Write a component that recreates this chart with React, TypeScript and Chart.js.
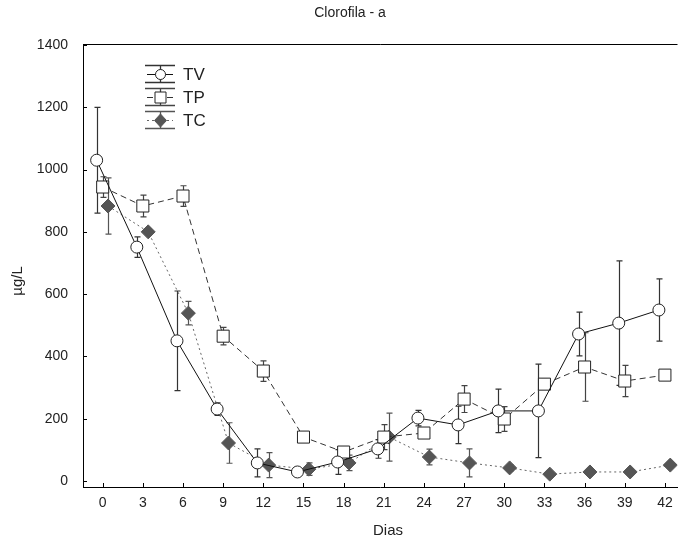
import React, { useEffect, useRef } from "react";
import { Chart, registerables } from "chart.js";

Chart.register(...registerables);

const days = [0, 3, 6, 9, 12, 15, 18, 21, 24, 27, 30, 33, 36, 39, 42];
const tvValues = [1030, 751, 450, 231, 58, 29, 61, 103, 202, 180, 225, 225, 472, 507, 549];
const tvErrors = [170, 33, 160, 20, 45, 8, 40, 30, 25, 60, 70, 150, 70, 200, 100];
const tpValues = [944, 883, 915, 465, 353, 141, 93, 141, 154, 263, 199, 311, 366, 321, 340];
const tpErrors = [33, 35, 33, 28, 33, 15, 15, 40, 15, 43, 40, 15, 110, 50, 0];
const tcValues = [883, 800, 539, 122, 51, 38, 58, 141, 77, 58, 42, 22, 29, 29, 51];
const tcErrors = [90, 10, 38, 65, 40, 20, 25, 77, 25, 45, 10, 5, 8, 8, 8];
const yTicks = [0, 200, 400, 600, 800, 1000, 1200, 1400];
const xTicks = [0, 3, 6, 9, 12, 15, 18, 21, 24, 27, 30, 33, 36, 39, 42];
const seriesNames = ["TV", "TP", "TC"];
const titleText = "Clorofila - a";
const xTitle = "Dias";
const yTitle = "µg/L";

const FONT = "'Liberation Sans', Arial, sans-serif";

const styles = [
  { color: "#111", dash: [] as number[], point: "circle", radius: 6, fill: "#fff", errColor: "#333", offset: -0.45 },
  { color: "#333", dash: [6, 4], point: "rect", radius: 8.5, fill: "#fff", errColor: "#444", offset: 0 },
  { color: "#666", dash: [2, 3], point: "rectRot", radius: 7, fill: "#555", errColor: "#555", offset: 0.4 },
];

const values = [tvValues, tpValues, tcValues];
const errors = [tvErrors, tpErrors, tcErrors];

const overlayPlugin = {
  id: "overlay",
  beforeDatasetsDraw(chart: any) {
    const ctx = chart.ctx;
    const ys = chart.scales.y;
    ctx.save();
    chart.data.datasets.forEach((ds: any, i: number) => {
      const meta = chart.getDatasetMeta(i);
      ctx.strokeStyle = styles[i].errColor;
      ctx.lineWidth = 1.2;
      ctx.setLineDash([]);
      meta.data.forEach((pt: any, j: number) => {
        const e = errors[i][j];
        if (!e) return;
        const v = values[i][j];
        const x = Math.round(pt.x) + 0.5;
        const y1 = ys.getPixelForValue(v + e);
        const y2 = ys.getPixelForValue(v - e);
        ctx.beginPath();
        ctx.moveTo(x, y1);
        ctx.lineTo(x, y2);
        ctx.moveTo(x - 3, y1);
        ctx.lineTo(x + 3, y1);
        ctx.moveTo(x - 3, y2);
        ctx.lineTo(x + 3, y2);
        ctx.stroke();
      });
    });
    ctx.restore();
  },
  afterDraw(chart: any) {
    const ctx = chart.ctx;
    const ca = chart.chartArea;
    const xs = chart.scales.x;
    const ys = chart.scales.y;
    ctx.save();
    ctx.strokeStyle = "#000";
    ctx.lineWidth = 1;
    ctx.setLineDash([]);
    // top border
    ctx.beginPath();
    ctx.moveTo(ca.left, Math.round(ca.top) + 0.5);
    ctx.lineTo(ca.right, Math.round(ca.top) + 0.5);
    ctx.stroke();
    // inward ticks
    ctx.beginPath();
    xTicks.forEach((t) => {
      const x = Math.round(xs.getPixelForValue(t)) + 0.5;
      ctx.moveTo(x, ca.bottom);
      ctx.lineTo(x, ca.bottom - 4);
    });
    yTicks.forEach((t) => {
      const y = Math.round(ys.getPixelForValue(t)) + 0.5;
      ctx.moveTo(ca.left, y);
      ctx.lineTo(ca.left + 4, y);
    });
    ctx.stroke();

    // title
    ctx.fillStyle = "#222";
    ctx.font = `14px ${FONT}`;
    ctx.textAlign = "center";
    ctx.textBaseline = "middle";
    ctx.fillText(titleText, 350, 13);
    // x title
    ctx.font = `15px ${FONT}`;
    ctx.fillText(xTitle, 388, 531);
    // y title
    ctx.save();
    ctx.translate(18, 281);
    ctx.rotate(-Math.PI / 2);
    ctx.fillText(yTitle, 0, 0);
    ctx.restore();

    // legend
    const centers = [74, 97, 120];
    const lx = 160;
    seriesNames.forEach((name, i) => {
      const st = styles[i];
      const cy = centers[i];
      ctx.strokeStyle = st.errColor;
      ctx.lineWidth = 1.3;
      ctx.setLineDash([]);
      ctx.beginPath();
      ctx.moveTo(145, cy - 8.5);
      ctx.lineTo(175, cy - 8.5);
      ctx.moveTo(145, cy + 8.5);
      ctx.lineTo(175, cy + 8.5);
      ctx.moveTo(lx + 0.5, cy - 8.5);
      ctx.lineTo(lx + 0.5, cy + 8.5);
      ctx.stroke();
      ctx.strokeStyle = st.color;
      ctx.lineWidth = 1;
      ctx.setLineDash(st.dash);
      ctx.beginPath();
      ctx.moveTo(147, cy + 0.5);
      ctx.lineTo(173, cy + 0.5);
      ctx.stroke();
      ctx.setLineDash([]);
      ctx.fillStyle = st.fill;
      ctx.strokeStyle = st.point === "rectRot" ? st.fill : "#222";
      ctx.beginPath();
      if (st.point === "circle") {
        ctx.arc(lx + 0.5, cy + 0.5, 5, 0, Math.PI * 2);
      } else if (st.point === "rect") {
        ctx.rect(lx - 5, cy - 5, 11, 11);
      } else {
        ctx.moveTo(lx + 0.5, cy - 6);
        ctx.lineTo(lx + 6.5, cy + 0.5);
        ctx.lineTo(lx + 0.5, cy + 7);
        ctx.lineTo(lx - 5.5, cy + 0.5);
        ctx.closePath();
      }
      ctx.fill();
      ctx.stroke();
      ctx.fillStyle = "#222";
      ctx.font = `17px ${FONT}`;
      ctx.textAlign = "left";
      ctx.textBaseline = "middle";
      ctx.fillText(name, 183, cy + 1);
    });
    ctx.restore();
  },
};

export default function App() {
  const ref = useRef<HTMLCanvasElement | null>(null);
  useEffect(() => {
    if (!ref.current) return;
    const datasets = values.map((vals, i) => {
      const st = styles[i];
      return {
        label: seriesNames[i],
        data: vals.map((v, j) => ({ x: days[j] + st.offset, y: v })),
        borderColor: st.color,
        borderWidth: 1,
        borderDash: st.dash,
        pointStyle: st.point,
        pointRadius: st.radius,
        pointBackgroundColor: st.fill,
        pointBorderColor: st.point === "rectRot" ? st.fill : "#222",
        pointBorderWidth: 1,
        tension: 0,
        fill: false,
      };
    });
    const chart = new Chart(ref.current, {
      type: "line",
      data: { datasets: datasets as any },
      options: {
        animation: false,
        responsive: false,
        devicePixelRatio: 1,
        layout: { padding: { top: 44, left: 0, right: 0, bottom: 0 } },
        plugins: { legend: { display: false }, tooltip: { enabled: false }, title: { display: false } },
        scales: {
          x: {
            type: "linear",
            min: -1.47,
            max: 42.94,
            afterBuildTicks: (s: any) => {
              s.ticks = xTicks.map((v) => ({ value: v }));
            },
            afterFit: (s: any) => {
              s.height = 53;
            },
            grid: { display: false, drawTicks: false },
            border: { display: true, color: "#000", width: 1 },
            ticks: {
              padding: 8,
              font: { family: FONT, size: 14 },
              color: "#222",
              maxRotation: 0,
              autoSkip: false,
              callback: (v: any) => String(v),
            },
          },
          y: {
            type: "linear",
            min: -19.3,
            max: 1403.2,
            afterBuildTicks: (s: any) => {
              s.ticks = yTicks.map((v) => ({ value: v }));
            },
            afterFit: (s: any) => {
              s.width = 83;
            },
            grid: { display: false, drawTicks: false },
            border: { display: true, color: "#000", width: 1 },
            ticks: {
              padding: 15,
              font: { family: FONT, size: 14 },
              color: "#222",
              autoSkip: false,
              callback: (v: any) => String(v),
            },
          },
        },
      } as any,
      plugins: [overlayPlugin],
    });
    return () => chart.destroy();
  }, []);
  return (
    <div style={{ position: "fixed", left: 0, top: 0, width: 687, height: 540, background: "#fff" }}>
      <canvas ref={ref} width={687} height={540} style={{ display: "block" }} />
    </div>
  );
}
